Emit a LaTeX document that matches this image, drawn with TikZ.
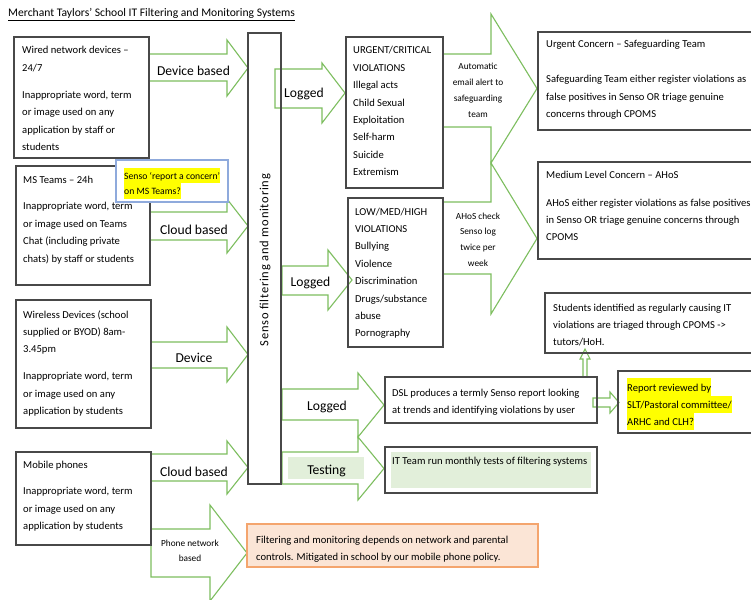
\documentclass[tikz,border=0pt]{standalone}
\usepackage{fontspec}
\setmainfont{Carlito}
\usepackage{xcolor}
\definecolor{agreen}{RGB}{125,190,95}
\definecolor{boxgray}{RGB}{72,72,72}
\definecolor{lblue}{RGB}{143,170,220}
\definecolor{oborder}{RGB}{244,165,110}
\definecolor{ofill}{RGB}{251,229,214}
\definecolor{lgreen}{RGB}{226,239,218}
\definecolor{hlyellow}{RGB}{255,255,0}
\newcommand{\bodyfont}{\fontsize{10.6}{17.4}\selectfont}
\newcommand{\lblfont}{\fontsize{13.6}{16}\selectfont}
\newcommand{\smallfont}{\fontsize{9.3}{15.8}\selectfont}
\newcommand{\ptext}[1]{\parbox[t]{260pt}{\raggedright #1}}
\newcommand{\ctext}[1]{\parbox[t]{90pt}{\centering #1}}
\newcommand{\hlA}[1]{{\setlength{\fboxsep}{0pt}\colorbox{hlyellow}{\rule[-4.5pt]{0pt}{17.4pt}#1}}}
\newcommand{\hlB}[1]{{\setlength{\fboxsep}{0pt}\colorbox{hlyellow}{\rule[-4pt]{0pt}{15.5pt}#1}}}
\newcommand{\blkarrow}[7]{%
  \draw[barrow] (#1,#4) -- (#2,#4) -- (#2,#6) -- (#3,{(#6+#7)/2}) -- (#2,#7) -- (#2,#5) -- (#1,#5) -- cycle;}
\tikzset{
  box/.style={draw=boxgray, line width=1.1pt},
  barrow/.style={draw=agreen, line width=1.1pt, line join=miter},
  txt/.style={anchor=base west, inner sep=0pt, font=\bodyfont},
  lbl/.style={anchor=base, inner sep=0pt, font=\lblfont},
  sml/.style={anchor=base, inner sep=0pt, font=\smallfont},
}
\begin{document}
\begin{tikzpicture}[x=1pt,y=-1pt]
\clip (0,0) rectangle (751,599);
\fill[white] (0,0) rectangle (751,599);

% title
\node[txt, font=\fontsize{11.6}{14}\selectfont] (title) at (8,17) {\underline{Merchant Taylors’ School IT Filtering and Monitoring Systems}};

% block arrows, left side
\blkarrow{149}{227}{248}{54}{81}{40}{96}
\blkarrow{150}{227}{248}{212}{240}{199}{253}
\blkarrow{151}{227}{248}{342}{368}{327}{382}
\blkarrow{151}{227}{248}{454}{481}{441}{494}
\blkarrow{151}{210}{247}{529}{577}{505}{601}
% block arrows, right side
\blkarrow{275}{322}{345}{69}{108}{63}{123}
\blkarrow{282}{328}{352}{266}{295}{250}{310}
\fill[lgreen] (288,457) rectangle (364,479);
\blkarrow{282}{358}{384}{389}{420}{373}{437}
\blkarrow{282}{358}{384}{452}{484}{437}{500}
\blkarrow{443}{491}{537}{54}{127}{14}{163}
\blkarrow{443}{491}{537}{202}{274}{163}{314}
\blkarrow{593}{610}{619}{398}{407}{392}{413}
\draw[barrow] (583,377) -- (583,359) -- (580,359) -- (585,349) -- (590,359) -- (587,359) -- (587,377);

% boxes
\draw[box] (14,37) rectangle (149,158);
\draw[box] (16,166) rectangle (150,285);
\draw[box] (16,300) rectangle (151,428);
\draw[box] (16,452) rectangle (151,545);
\draw[box] (248,33) rectangle (281,484);
\draw[box] (346,37) rectangle (443,188);
\draw[box] (348,198) rectangle (443,347);
\draw[box] (538,32) rectangle (760,130);
\draw[box] (538,162) rectangle (760,259);
\draw[box] (545,293) rectangle (760,353);
\draw[box] (385,377) rectangle (597,423);
\draw[box] (385,447) rectangle (597,493);
\fill[lgreen] (391,452) rectangle (591,488);
\draw[box] (618,371) rectangle (760,433);
\draw[draw=lblue, line width=1.1pt, fill=white] (116,160) rectangle (228,202);
\draw[draw=oborder, line width=1.3pt, fill=ofill] (247,524) rectangle (538,567);

% box texts
\node[txt] (wiredtxt) at (22,54) {\ptext{Wired network devices –\\24/7\\[9.5pt]Inappropriate word, term\\or image used on any\\application by staff or\\students}};
\node[txt] (teamstxt) at (23,183) {\ptext{MS Teams – 24h\\[9.5pt]Inappropriate word, term\\or image used on Teams\\Chat (including private\\chats) by staff or students}};
\node[txt] (wirelesstxt) at (23,318) {\ptext{Wireless Devices (school\\supplied or BYOD) 8am-\\3.45pm\\[9.5pt]Inappropriate word, term\\or image used on any\\application by students}};
\node[txt] (mobiletxt) at (23,468) {\ptext{Mobile phones\\[9.5pt]Inappropriate word, term\\or image used on any\\application by students}};
\node[txt, font=\fontsize{9.7}{15.5}\selectfont] (sensoreport) at (124,179) {\ptext{\hlB{Senso ‘report a concern’}\\\hlB{on MS Teams?}}};
\node[txt] (urgenttxt) at (353,54) {\ptext{URGENT/CRITICAL\\VIOLATIONS\\Illegal acts\\Child Sexual\\Exploitation\\Self-harm\\Suicide\\Extremism}};
\node[txt] (lowtxt) at (355,215) {\ptext{LOW/MED/HIGH\\VIOLATIONS\\Bullying\\Violence\\Discrimination\\Drugs/substance\\abuse\\Pornography}};
\node[txt] (ucontxt) at (546,48) {\ptext{Urgent Concern – Safeguarding Team\\[17.4pt]Safeguarding Team either register violations as\\false positives in Senso OR triage genuine\\concerns through CPOMS}};
\node[txt] (mcontxt) at (546,178) {\ptext{Medium Level Concern – AHoS\\[10.6pt]AHoS either register violations as false positives\\in Senso OR triage genuine concerns through\\CPOMS}};
\node[txt] (studentstxt) at (553,311) {\ptext{Students identified as regularly causing IT\\violations are triaged through CPOMS ->\\tutors/HoH.}};
\node[txt] (dsltxt) at (392,396) {\ptext{DSL produces a termly Senso report looking\\at trends and identifying violations by user}};
\node[txt] (ittxt) at (392,464) {IT Team run monthly tests of filtering systems};
\node[txt] (reporttxt) at (627,391) {\ptext{\hlA{Report reviewed by}\\\hlA{SLT/Pastoral committee/}\\\hlA{ARHC and CLH?}}};
\node[txt] (orangetxt) at (256,543) {\ptext{Filtering and monitoring depends on network and parental\\controls. Mitigated in school by our mobile phone policy.}};

% Senso column text
\node[rotate=90, inner sep=0pt, font=\fontsize{12.5}{14}\selectfont\addfontfeatures{LetterSpace=6}] (sensotxt) at (265,260) {Senso filtering and monitoring};

% arrow labels
\node[lbl] (l1) at (193.5,76) {Device based};
\node[lbl] (l2) at (194,234) {Cloud based};
\node[lbl] (l3) at (194,362) {Device};
\node[lbl] (l4) at (194,476) {Cloud based};
\node[sml] (l5) at (190,546) {\ctext{Phone network\\based}};
\node[lbl] (l6) at (304,98) {Logged};
\node[lbl] (l7) at (310.5,286) {Logged};
\node[lbl] (l8) at (327,410) {Logged};
\node[lbl] (l9) at (326.5,474) {Testing};
\node[sml] (l10) at (478,70) {\ctext{Automatic\\email alert to\\safeguarding\\team}};
\node[sml] (l11) at (478,219) {\ctext{AHoS check\\Senso log\\twice per\\week}};
\end{tikzpicture}
\end{document}
